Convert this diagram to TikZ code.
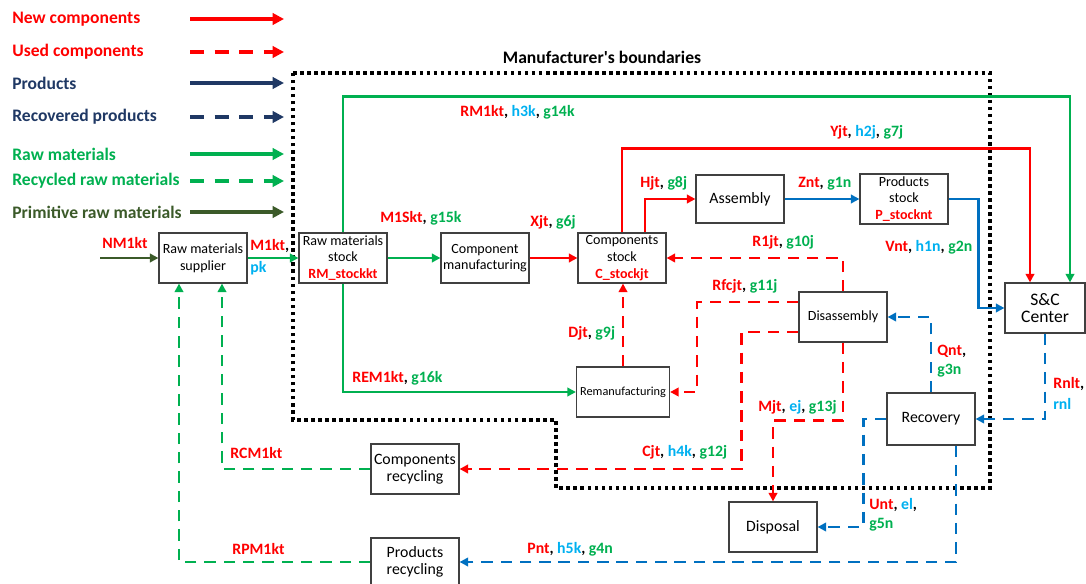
\documentclass[tikz,border=0pt]{standalone}
\usepackage{fontspec}
\setmainfont{Carlito}
\usetikzlibrary{arrows.meta,calc}
\colorlet{myred}{red}
\definecolor{mygreen}{HTML}{00B050}
\definecolor{mydarkgreen}{HTML}{3B5A29}
\definecolor{mynavy}{HTML}{1F3864}
\definecolor{myblue}{HTML}{0070C0}
\definecolor{mycyan}{HTML}{00B0F0}
\newcommand{\rd}[1]{\textcolor{myred}{#1}}
\newcommand{\cy}[1]{\textcolor{mycyan}{#1}}
\newcommand{\gn}[1]{\textcolor{mygreen}{#1}}

\tikzset{
  box/.style={draw=black!75, line width=0.7pt, align=center, inner sep=1pt,
    font=\fontsize{8}{9.5}\selectfont, minimum width=1.76cm, minimum height=1cm},
  lbl/.style={anchor=west, inner sep=0pt, font=\bfseries\fontsize{9}{10}\selectfont},
  leg/.style={anchor=west, inner sep=0pt, font=\bfseries\fontsize{10}{11}\selectfont},
  flow/.style={line width=1.4pt, -{Triangle[length=4.8pt,width=4.8pt]}},
  dflow/.style={flow, dash pattern=on 6.5pt off 4.5pt},
  newflow/.style={flow, myred},
  usedflow/.style={dflow, myred},
  prodflow/.style={flow, myblue},
  recflow/.style={dflow, myblue},
  rawflow/.style={flow, mygreen},
  recrawflow/.style={dflow, mygreen},
  primflow/.style={flow, mydarkgreen},
  legarrow/.style={line width=1.8pt, -{Triangle[length=6.5pt,width=6.5pt]}},
  boundary/.style={line width=2.2pt, dash pattern=on 2pt off 2pt},
}

\begin{document}
\begin{tikzpicture}[x=0.02cm, y=-0.02cm]
\useasboundingbox (0,0) rectangle (1086,584);

% legend
\node[leg, myred] (lnew) at (12,19) {New components};
\node[leg, myred] (lused) at (12,52) {Used components};
\node[leg, mynavy] (lprod) at (12,83) {Products};
\node[leg, mynavy] (lrec) at (12,117) {Recovered products};
\node[leg, mygreen] (lraw) at (12,154) {Raw materials};
\node[leg, mygreen] (lrecraw) at (12,181) {Recycled raw materials};
\node[leg, mydarkgreen] (lprim) at (12,212) {Primitive raw materials};
\foreach \n/\y in {new/19,used/52,prod/83,rec/117,raw/154,recraw/181,prim/212} {
  \coordinate (\n a) at (190,\y);
  \coordinate (\n b) at (284,\y);
}
\draw[legarrow, myred] (newa) -- (newb);
\draw[legarrow, myred, dash pattern=on 8pt off 6pt] (useda) -- (usedb);
\draw[legarrow, mynavy] (proda) -- (prodb);
\draw[legarrow, mynavy, dash pattern=on 8pt off 6pt] (reca) -- (recb);
\draw[legarrow, mygreen] (rawa) -- (rawb);
\draw[legarrow, mygreen, dash pattern=on 8pt off 6pt] (recrawa) -- (recrawb);
\draw[legarrow, mydarkgreen] (prima) -- (primb);

% manufacturer's boundaries
\node[font=\bfseries\fontsize{10}{11}\selectfont] (title) at (602,57) {Manufacturer\textquotesingle s boundaries};
\draw[boundary] (293,73) -- (990,73) -- (990,488) -- (556,488) -- (556,420) -- (293,420) -- cycle;

% boxes
\node[box] (sup) at (203,258) {Raw materials\\supplier};
\node[box] (rmstock) at (343,258) {Raw materials\\stock\\\rd{\bfseries RM\_stockkt}};
\node[box] (compman) at (485,258) {Component\\manufacturing};
\node[box] (cstock) at (622,258) {Components\\stock\\\rd{\bfseries C\_stockjt}};
\node[box, minimum height=0.96cm] (assembly) at (740,199) {\fontsize{9}{10}\selectfont Assembly};
\node[box] (pstock) at (904,199) {Products\\stock\\\rd{\bfseries P\_stocknt}};
\node[box, minimum width=1.6cm] (sc) at (1045,308) {\fontsize{10}{12}\selectfont S\&C\\\fontsize{10}{12}\selectfont Center};
\node[box] (disas) at (843,317) {Disassembly};
\node[box, minimum width=1.86cm, font=\fontsize{7}{8}\selectfont] (reman) at (623,392) {Remanufacturing};
\node[box, minimum height=1.04cm] (recov) at (931,419) {\fontsize{9}{10}\selectfont Recovery};
\node[box] (crec) at (415,469) {\fontsize{9}{11}\selectfont Components\\\fontsize{9}{11}\selectfont recycling};
\node[box] (disp) at (773,527) {\fontsize{9}{10}\selectfont Disposal};
\node[box, minimum height=0.96cm] (prec) at (415,562) {\fontsize{9}{11}\selectfont Products\\\fontsize{9}{11}\selectfont recycling};

% raw materials
\coordinate (nmin) at (100,258);
\draw[primflow] (nmin) -- (sup);
\draw[rawflow] (sup) -- (rmstock);
\draw[rawflow] (rmstock) -- (compman);
\draw[rawflow] (rmstock.north) -- ++(0,-136) -| ($(sc.north)+(25,0)$);
\draw[rawflow] (rmstock.south) |- (reman.west);

% new components and products
\draw[newflow] (compman) -- (cstock);
\draw[newflow] (cstock.north) -- ++(0,-84) -| ($(sc.north)+(-15,0)$);
\draw[newflow] ($(cstock.north)+(23,0)$) |- (assembly.west);
\draw[prodflow] (assembly) -- (pstock);
\draw[prodflow] (pstock.east) -- ++(30,0) |- (sc.west);

% returns
\draw[recflow] (sc.south) |- (recov.east);
\draw[recflow] (recov.north) |- (disas.east);
\draw[usedflow] (disas.north) |- (cstock.east);
\draw[usedflow] ($(disas.west)+(0,-15)$) -| ($(reman.east)+(27,0)$) -- (reman.east);
\draw[usedflow] ($(disas.west)+(0,15)$) -| ($(crec.east)+(282,0)$) -- (crec.east);
\draw[usedflow] (disas.south) -- ++(0,78) -| (disp.north);
\draw[usedflow] (reman.north) -- (reman.north |- cstock.south);
\draw[recrawflow] (crec.west) -| ($(sup.south)+(19,0)$);
\draw[recrawflow] (prec.west) -| ($(sup.south)+(-24,0)$);
\draw[recflow] ($(recov.south)+(25,0)$) |- (prec.east);
\draw[recflow] (recov.west) -- ++(-23,0) |- (disp.east);

% flow labels
\node[lbl] (tnm) at (102,243) {\rd{NM1kt}};
\node[lbl] (tm1) at (250,246) {\rd{M1kt},};
\node[lbl] (tpk) at (250,268) {\cy{pk}};
\node[lbl] (tm1s) at (380,218) {\rd{M1Skt}, \gn{g15k}};
\node[lbl] (txjt) at (530,222) {\rd{Xjt}, \gn{g6j}};
\node[lbl] (trm1) at (460,112) {\rd{RM1kt}, \cy{h3k}, \gn{g14k}};
\node[lbl] (trem) at (352,378) {\rd{REM1kt}, \gn{g16k}};
\node[lbl] (tyjt) at (830,132) {\rd{Yjt}, \cy{h2j}, \gn{g7j}};
\node[lbl] (thjt) at (640,183) {\rd{Hjt}, \gn{g8j}};
\node[lbl] (tznt) at (798,184) {\rd{Znt}, \gn{g1n}};
\node[lbl] (tvnt) at (885,247) {\rd{Vnt}, \cy{h1n}, \gn{g2n}};
\node[lbl] (tr1jt) at (752,242) {\rd{R1jt}, \gn{g10j}};
\node[lbl] (trfc) at (712,286) {\rd{Rfcjt}, \gn{g11j}};
\node[lbl] (tdjt) at (568,333) {\rd{Djt}, \gn{g9j}};
\node[lbl] (tqnt) at (937,351) {\rd{Qnt},};
\node[lbl] (tg3n) at (937,371) {\gn{g3n}};
\node[lbl] (trnlt) at (1053,384) {\rd{Rnlt},};
\node[lbl] (trnl) at (1053,404) {\cy{rnl}};
\node[lbl] (tmjt) at (758,407) {\rd{Mjt}, \cy{ej}, \gn{g13j}};
\node[lbl] (tcjt) at (642,452) {\rd{Cjt}, \cy{h4k}, \gn{g12j}};
\node[lbl] (trcm) at (230,453) {\rd{RCM1kt}};
\node[lbl] (trpm) at (232,549) {\rd{RPM1kt}};
\node[lbl] (tpnt) at (527,549) {\rd{Pnt}, \cy{h5k}, \gn{g4n}};
\node[lbl] (tunt) at (869,505) {\rd{Unt}, \cy{el},};
\node[lbl] (tg5n) at (869,525) {\gn{g5n}};
\end{tikzpicture}
\end{document}
